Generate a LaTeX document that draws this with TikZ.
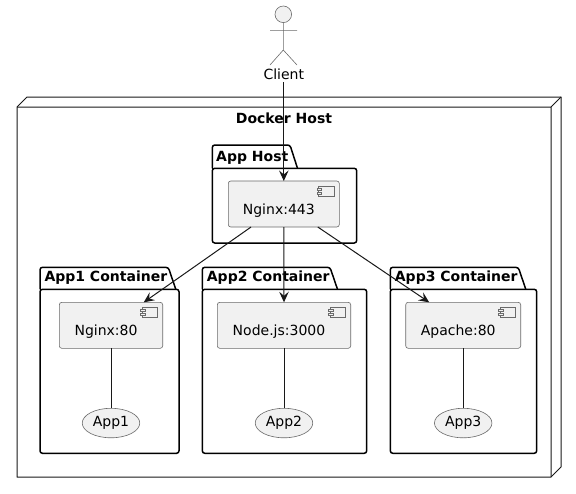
\documentclass[tikz,border=0pt]{standalone}
\usepackage{fontspec}
\setmainfont{DejaVu Sans}
\usepackage{xcolor}
\usetikzlibrary{positioning,arrows.meta,shapes.geometric}
\definecolor{ink}{HTML}{181818}
\definecolor{thin}{HTML}{6A6A6A}
\definecolor{soft}{HTML}{F1F1F1}
\tikzset{
    comp/.style={rectangle,draw=thin,line width=.6pt,fill=soft,rounded corners=2.5pt,inner sep=0pt,outer sep=0pt,minimum height=46pt,text height=24pt,text depth=4pt,font=\fontsize{14}{16}\selectfont},
    app/.style={ellipse,draw=thin,line width=.6pt,fill=soft,inner sep=0pt,outer sep=0pt,minimum width=57.5pt,minimum height=29.5pt,font=\fontsize{14}{16}\selectfont},
    pkgline/.style={draw=black,line width=1.5pt,rounded corners=2.5pt,fill=white},
    pkgtitle/.style={anchor=base west,inner sep=0pt,font=\bfseries\fontsize{14}{16}\selectfont},
    iconline/.style={draw=thin,line width=.6pt,fill=soft},
    arr/.style={-{Stealth[length=10.5pt,width=9.5pt,inset=4pt]},draw=ink,line width=1pt},
    plain/.style={draw=ink,line width=1pt},
}
% x0, x1, tab right, tab top, body top, bottom
\newcommand{\pkgbox}[6]{
  \path[pkgline] (#1,#5) -- (#1,#4) -- (#3,#4) -- ({#3+7.5},#5);
  \path[pkgline] (#1,#5) rectangle (#2,#6);
  \draw[black,line width=1.5pt] (#1,#5) -- ({#1+3},#5);
}
\newcommand{\compicon}[1]{
  \draw[iconline] ([shift={(-20.7pt,-5pt)}]#1.north east) rectangle ([shift={(-5pt,-15.4pt)}]#1.north east);
  \draw[iconline] ([shift={(-22.4pt,-7pt)}]#1.north east) rectangle ([shift={(-17.7pt,-9.4pt)}]#1.north east);
  \draw[iconline] ([shift={(-22.4pt,-11pt)}]#1.north east) rectangle ([shift={(-17.7pt,-13.4pt)}]#1.north east);
}
\newcommand{\complabel}[1]{#1\kern10pt}

\begin{document}
\begin{tikzpicture}[x=1pt,y=-1pt]
\useasboundingbox (0,0) rectangle (576,493);

% docker host
\draw[draw=ink,line width=1pt,line join=round] (17,107) -- (27,97) -- (561,97) -- (561,467) -- (551,477) -- (17,477) -- cycle;
\draw[draw=ink,line width=1pt] (17,107) -- (551,107) -- (551,477) (551,107) -- (561,97);
\node[inner sep=0pt,anchor=base,font=\bfseries\fontsize{14}{16}\selectfont] (dockerhost) at (284,123.5) {Docker Host};

% packages
\pkgbox{212.3}{356.7}{290}{145}{168.3}{243}
\pkgbox{40}{179}{168.3}{267.3}{289.3}{453.3}
\pkgbox{202.3}{366.7}{330}{267.3}{289.3}{453.3}
\pkgbox{390.3}{536.7}{518.3}{267.3}{289.3}{453.3}
\node[pkgtitle] (apphost) at (216,161) {App Host};
\node[pkgtitle] (app1box) at (44.3,281.7) {App1 Container};
\node[pkgtitle] (app2box) at (206.7,281.7) {App2 Container};
\node[pkgtitle] (app3box) at (394.7,281.7) {App3 Container};

% client
\draw[draw=thin,line width=.6pt,fill=soft] (283.3,14.3) circle (8.3);
\draw[draw=thin,line width=.6pt] (283.3,22.6) -- (283.3,50) (270,30.3) -- (297,30.3) (270,65) -- (283.3,50) -- (297,65);
\node[inner sep=0pt,outer sep=0pt,minimum height=16pt,font=\fontsize{14}{16}\selectfont] (client) at (283.8,74) {Client};

% components
\node[comp,minimum width=111pt] (hostnginx) at (283.8,204) {\complabel{Nginx:443}};
\node[comp,minimum width=103.4pt] (nginx) at (111,325.3) {\complabel{Nginx:80}};
\node[comp,minimum width=133.4pt] (node) at (284,325.3) {\complabel{Node.js:3000}};
\node[comp,minimum width=115pt] (apache) at (463.2,325.3) {\complabel{Apache:80}};
\node[app,below=60pt of nginx] (appa) {App1};
\node[app,below=60pt of node] (appb) {App2};
\node[app,below=60pt of apache] (appc) {App3};
\foreach \n in {hostnginx,nginx,node,apache} {\compicon{\n}}

\draw[arr] (client.south) -- (hostnginx.north);
\draw[arr] (hostnginx) -- (nginx);
\draw[arr] (hostnginx.south) -- (node.north);
\draw[arr] (hostnginx) -- (apache);
\draw[plain] (nginx) -- (appa);
\draw[plain] (node) -- (appb);
\draw[plain] (apache) -- (appc);
\end{tikzpicture}
\end{document}
